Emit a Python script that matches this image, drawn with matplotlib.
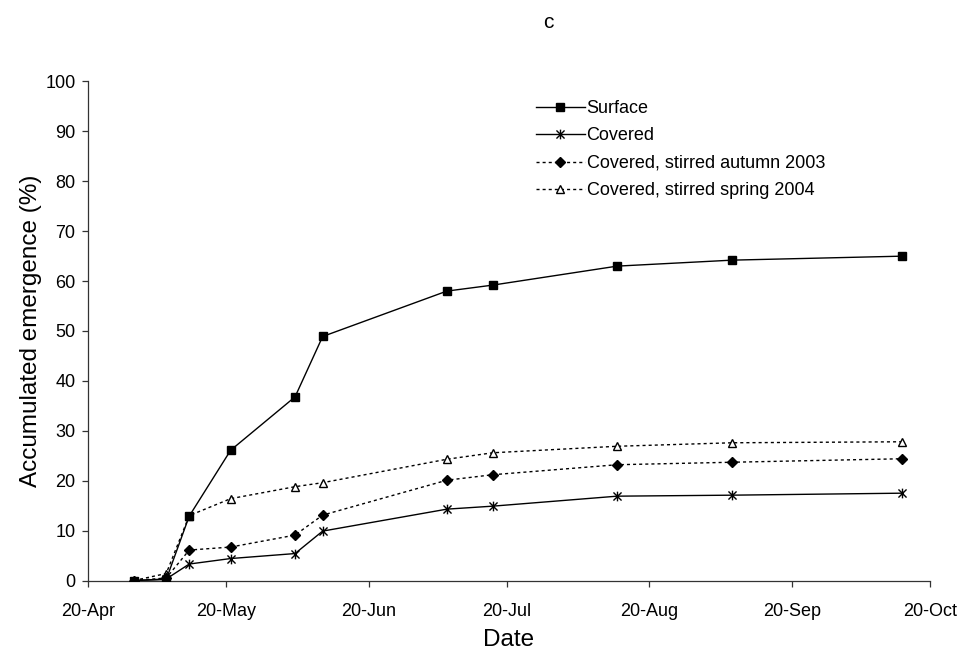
import matplotlib
matplotlib.use("Agg")
import matplotlib.pyplot as plt
import matplotlib.dates as mdates
from matplotlib.path import Path
import numpy as np
import pandas as pd

plt.rcParams['font.family'] = ['Liberation Sans', 'DejaVu Sans']

# sampling dates (2004) and accumulated emergence (%)
dates = pd.to_datetime(['2004-04-30', '2004-05-07', '2004-05-12', '2004-05-21',
                        '2004-06-04', '2004-06-10', '2004-07-07', '2004-07-17',
                        '2004-08-13', '2004-09-07', '2004-10-14'])
surface = [0, 0.2, 12.9, 26.1, 36.8, 48.9, 58.0, 59.2, 63.0, 64.2, 65.0]
covered = [0, 0.3, 3.3, 4.4, 5.4, 9.9, 14.3, 14.9, 16.9, 17.1, 17.5]
stirred_autumn = [0, 0.5, 6.1, 6.7, 9.1, 13.1, 20.1, 21.2, 23.2, 23.7, 24.4]
stirred_spring = [0, 1.4, 13.0, 16.4, 18.8, 19.6, 24.3, 25.6, 26.9, 27.6, 27.8]

labels = ['Surface', 'Covered', 'Covered, stirred autumn 2003', 'Covered, stirred spring 2004']

# excel-like star marker: an x with a vertical bar
star = Path([(-1, -1), (1, 1), (-1, 1), (1, -1), (0, -1.2), (0, 1.2)],
            [Path.MOVETO, Path.LINETO, Path.MOVETO, Path.LINETO, Path.MOVETO, Path.LINETO])

fig = plt.figure(figsize=(9.62, 6.53), dpi=100)
ax = fig.add_axes([88/962, 1-580.5/653, 842/962, 499/653])

dots = (0, (2.2, 2.2))
ax.plot(dates, stirred_spring, color='black', lw=1.0, linestyle=dots,
        marker='^', ms=6, mfc='white', mec='black', mew=1.0, label=labels[3], zorder=3)
ax.plot(dates, stirred_autumn, color='black', lw=1.0, linestyle=dots,
        marker='D', ms=5, mfc='black', mec='black', label=labels[2], zorder=4)
ax.plot(dates, covered, color='black', lw=1.0, linestyle='-',
        marker=star, ms=7, mfc='none', mec='black', mew=1.0, label=labels[1], zorder=5)
ax.plot(dates, surface, color='black', lw=1.0, linestyle='-',
        marker='s', ms=6, mfc='black', mec='black', label=labels[0], zorder=6)

ax.set_xlim(pd.Timestamp('2004-04-20'), pd.Timestamp('2004-10-20'))
ax.set_ylim(0, 100)
ax.set_yticks(np.arange(0, 101, 10))
ax.xaxis.set_major_locator(mdates.MonthLocator(bymonthday=20))
ax.xaxis.set_major_formatter(mdates.DateFormatter('%d-%b'))

for s in ['top', 'right']:
    ax.spines[s].set_visible(False)
for s in ['left', 'bottom']:
    ax.spines[s].set_linewidth(0.9)
    ax.spines[s].set_color('#333333')
ax.tick_params(axis='both', direction='out', length=4, width=0.9, color='#333333', labelsize=13)
ax.tick_params(axis='x', pad=12)
ax.tick_params(axis='y', pad=5)

ax.set_ylabel('Accumulated emergence (%)', fontsize=17.5)
ax.set_xlabel('Date', fontsize=17.5)
ax.yaxis.set_label_coords(-0.055, 0.5)
ax.xaxis.set_label_coords(0.5, -0.098)

fig.text(548/962, 1-23/653, 'c', fontsize=15, ha='center', va='center')

h, l = ax.get_legend_handles_labels()
ax.legend(h[::-1], l[::-1], loc='upper left', bbox_to_anchor=(536/962, 1-100/653),
          bbox_transform=fig.transFigure, frameon=False, fontsize=13,
          handlelength=2.7, handletextpad=0.1, labelspacing=0.58,
          borderpad=0, borderaxespad=0)

fig.savefig('out.png', dpi=100)
